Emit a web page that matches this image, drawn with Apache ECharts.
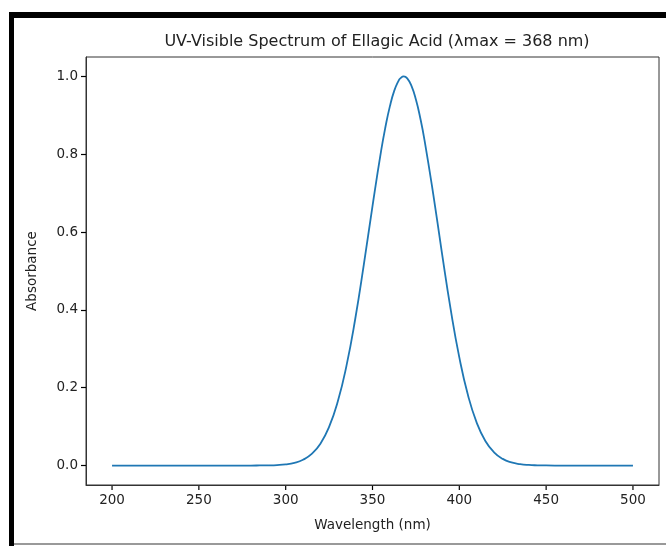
<!DOCTYPE html>
<html>
<head>
<meta charset="utf-8">
<script src="https://cdn.jsdelivr.net/npm/echarts@6/dist/echarts.min.js"></script>
<style>
html,body{margin:0;padding:0;background:#fff;}
#chart{width:666px;height:547px;}
</style>
</head>
<body>
<div id="chart"></div>
<script>
// Data (wavelength in nm, absorbance normalized)
const wavelengths = [200,210,220,230,240,250,260,270,280,285,290,295,300,305,310,315,320,325,330,335,340,345,350,355,357.5,360,362.5,365,366,368,370,372.5,375,377.5,380,385,390,395,400,405,410,415,420,425,430,435,440,445,450,460,470,480,490,500];
const absorbance = [0,0,0,0,0,0,0,0,0,0.0002,0.0005,0.0013,0.0031,0.0070,0.0149,0.0299,0.0561,0.0992,0.1645,0.2563,0.3753,0.5162,0.6670,0.8098,0.8713,0.9231,0.9629,0.9888,0.9950,1.0,0.9950,0.9750,0.9406,0.8933,0.8353,0.6969,0.5461,0.4020,0.2780,0.1806,0.1103,0.0632,0.0340,0.0172,0.0082,0.0037,0.0015,0.0006,0.0002,0,0,0,0,0];
const xTicks = [200,250,300,350,400,450,500];
const yTicks = [0,0.2,0.4,0.6,0.8,1.0];
const titleText = 'UV-Visible Spectrum of Ellagic Acid (λmax = 368 nm)';
const xName = 'Wavelength (nm)';
const yName = 'Absorbance';

const xMin = 185, xMax = 515, yMin = -0.05, yMax = 1.05;
const seriesData = wavelengths.map((w, i) => [w, absorbance[i]]);
const font = 'DejaVu Sans';
const textColor = '#222';
const frameColor = '#333';

const frameGraphics = [
  {type: 'rect', shape: {x: 9, y: 12, width: 5, height: 534}, style: {fill: '#000'}, silent: true},
  {type: 'rect', shape: {x: 9, y: 12, width: 657, height: 6}, style: {fill: '#000'}, silent: true},
  {type: 'rect', shape: {x: 14, y: 543, width: 652, height: 2}, style: {fill: '#999'}, silent: true}
];

const chart = echarts.init(document.getElementById('chart'), null, {renderer: 'canvas'});
chart.setOption({
  animation: false,
  backgroundColor: '#fff',
  title: {
    text: titleText,
    left: 372, top: 29, textAlign: 'center',
    textStyle: {fontFamily: font, fontSize: 16, fontWeight: 'normal', color: textColor}
  },
  grid: {
    left: 86, right: 7, top: 57, bottom: 62,
    show: true, borderColor: frameColor, borderWidth: 1, backgroundColor: 'transparent'
  },
  xAxis: {
    type: 'value', min: xMin, max: xMax,
    name: xName, nameLocation: 'middle', nameGap: 33,
    nameTextStyle: {fontFamily: font, fontSize: 13.5, color: textColor},
    axisLine: {show: true, onZero: false, lineStyle: {color: frameColor, width: 1}},
    splitLine: {show: false},
    axisTick: {show: false},
    axisLabel: {fontFamily: font, fontSize: 13.5, color: textColor, margin: 8, customValues: xTicks}
  },
  yAxis: {
    type: 'value', min: yMin, max: yMax,
    name: yName, nameLocation: 'middle', nameGap: 47, nameRotate: 90,
    nameTextStyle: {fontFamily: font, fontSize: 13.5, color: textColor},
    axisLine: {show: true, onZero: false, lineStyle: {color: frameColor, width: 1}},
    splitLine: {show: false},
    axisTick: {show: true, inside: false, length: 5, lineStyle: {color: '#000', width: 1.2}, customValues: yTicks},
    axisLabel: {fontFamily: font, fontSize: 13.5, color: textColor, margin: 8, customValues: yTicks,
      formatter: v => v.toFixed(1)}
  },
  series: [{
    type: 'line',
    data: seriesData,
    smooth: true,
    showSymbol: false,
    lineStyle: {color: '#1f77b4', width: 1.8},
    itemStyle: {color: '#1f77b4'}
  }],
  graphic: frameGraphics
});

// x-axis tick marks, positioned through the chart's own axis scale
const tickGraphics = xTicks.map(v => {
  const p = chart.convertToPixel({gridIndex: 0}, [v, yMin]);
  return {
    type: 'line', silent: true,
    shape: {x1: p[0], y1: p[1], x2: p[0], y2: p[1] + 5},
    style: {stroke: '#000', lineWidth: 1.2}
  };
});
chart.setOption({graphic: frameGraphics.concat(tickGraphics)});
</script>
</body>
</html>
